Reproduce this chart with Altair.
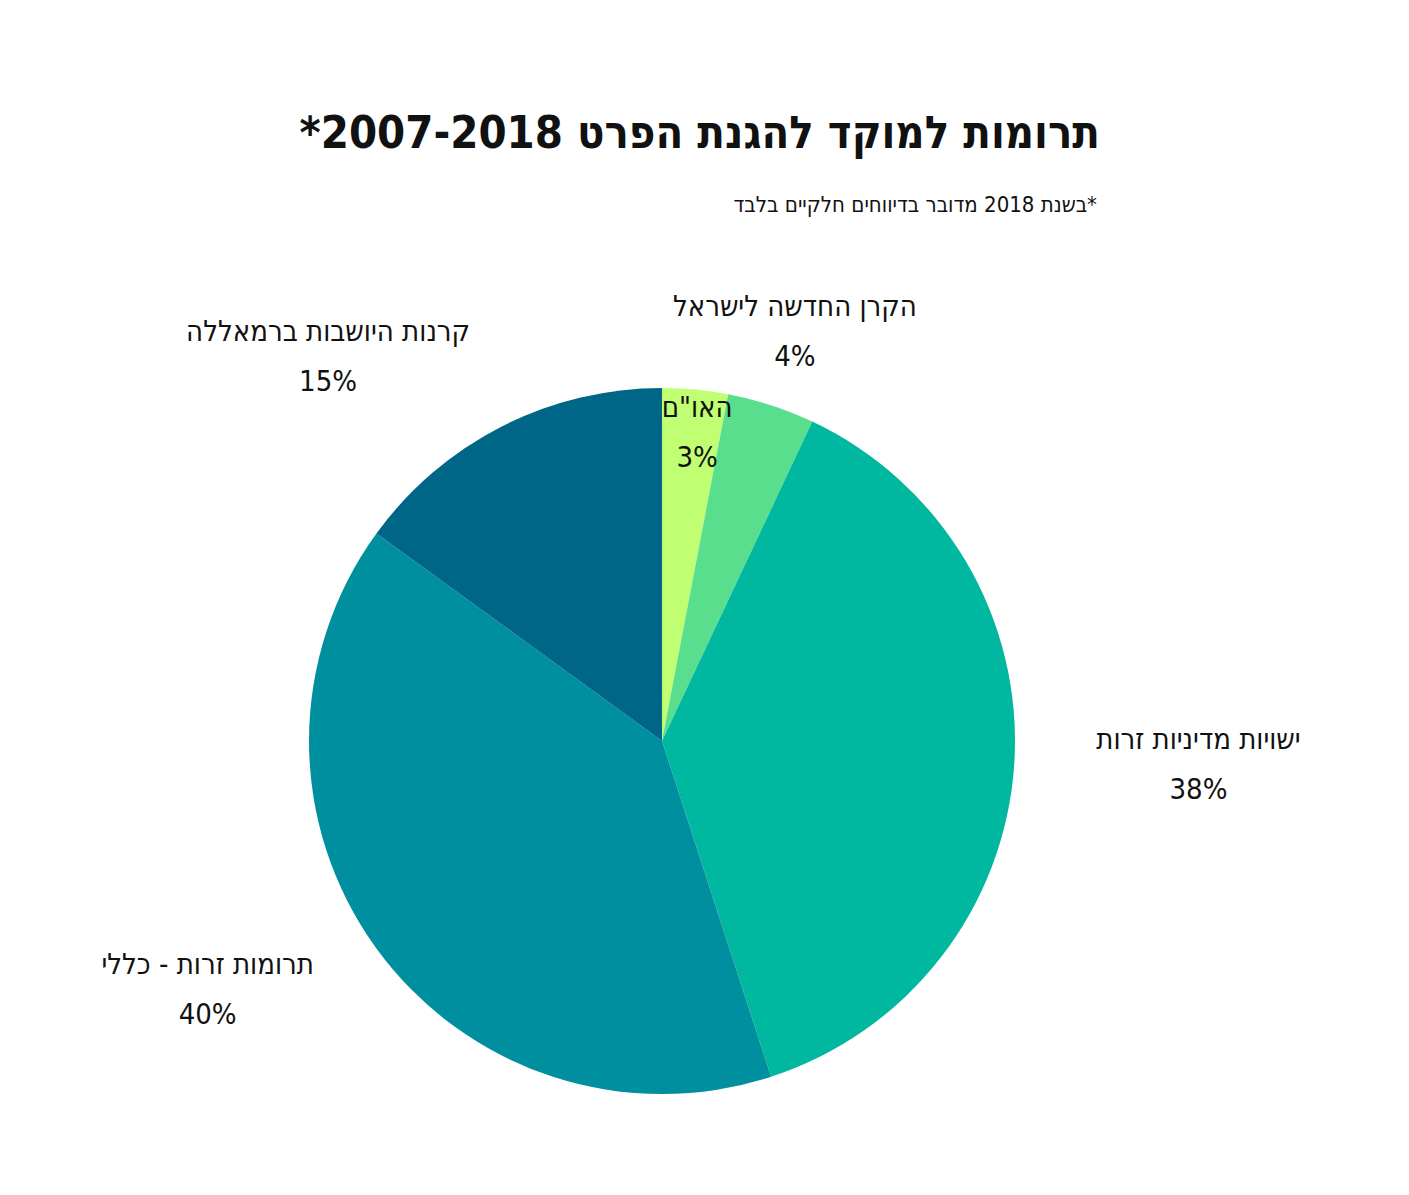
import math
import altair as alt
import pandas as pd

# ---- data ----
categories = ["האו\"ם", "הקרן החדשה לישראל", "ישויות מדיניות זרות", "תרומות זרות - כללי", "קרנות היושבות ברמאללה"]
values = [3, 4, 38, 40, 15]
colors = ["#c1ff72", "#58de8c", "#00b8a0", "#008f9e", "#006687"]

title_text = "*2007-2018 תרומות למוקד להגנת הפרט"
subtitle_text = "בשנת 2018 מדובר בדיווחים חלקיים בלבד*"

# ---- layout ----
W, H = 1393, 1179
CX, CY, R = 654, 733, 353
FONT = "'DejaVu Sans Condensed', 'Liberation Sans Narrow', 'DejaVu Sans', sans-serif"
# label placement (radius, angle nudge in degrees) per slice
label_layout = [(310, 1.1), (430, 0.0), (537, -1.0), (518, 7.3), (509, -14.0)]
LINE_GAP = 25

df = pd.DataFrame({"cat": categories, "value": values, "idx": range(len(values))})

total = sum(values)
rows = []
cum = 0
for i, (c, v) in enumerate(zip(categories, values)):
    mid = (cum + v / 2) / total * 360
    cum += v
    r, nudge = label_layout[i]
    a = math.radians(mid + nudge)
    x = CX + r * math.sin(a)
    y = CY - r * math.cos(a)
    rows.append({"text": c, "x": x, "y": y - LINE_GAP})
    rows.append({"text": f"{v}%", "x": x, "y": y + LINE_GAP})
labels = pd.DataFrame(rows)

color_scale = alt.Scale(domain=categories, range=colors)

pie = alt.Chart(df).mark_arc(radius=R, strokeWidth=0).encode(
    theta=alt.Theta("value:Q", stack=True),
    order=alt.Order("idx:Q"),
    color=alt.Color("cat:N", scale=color_scale, legend=None),
    x=alt.value(CX),
    y=alt.value(CY),
)

lab = alt.Chart(labels).mark_text(
    font=FONT, fontSize=29, color="#111111", align="center", baseline="middle"
).encode(
    x=alt.X("x:Q", scale=None),
    y=alt.Y("y:Q", scale=None),
    text="text:N",
)

title = alt.Chart(pd.DataFrame({"t": [title_text]})).mark_text(
    font=FONT, fontSize=45, fontWeight="bold", color="#111111", align="right", baseline="middle"
).encode(x=alt.value(1092), y=alt.value(126), text="t:N")

subtitle = alt.Chart(pd.DataFrame({"t": [subtitle_text]})).mark_text(
    font=FONT, fontSize=22, color="#111111", align="right", baseline="middle"
).encode(x=alt.value(1089), y=alt.value(197), text="t:N")

chart = alt.layer(pie, lab, title, subtitle).properties(
    width=W, height=H, autosize=alt.AutoSizeParams(type="none"), padding=0
).configure(
    background="white",
    view=alt.ViewConfig(strokeWidth=0, stroke="transparent"),
)

chart.save("out.html", embed_options={"renderer": "svg", "actions": False})
